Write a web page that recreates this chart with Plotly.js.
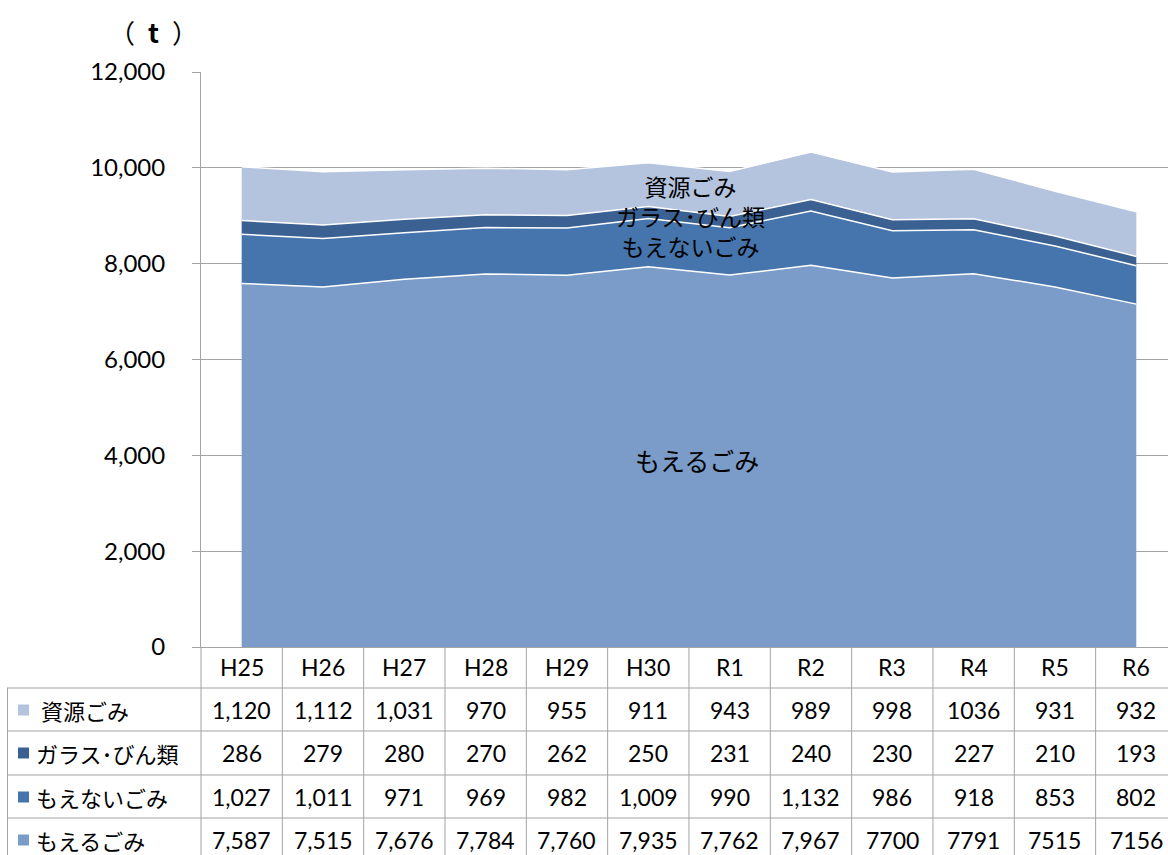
<!DOCTYPE html>
<html>
<head>
<meta charset="utf-8">
<script src="https://cdn.plot.ly/plotly-3.0.1.min.js"></script>
<style>html,body{margin:0;padding:0;background:#fff;}#chart{width:1168px;height:855px;}</style>
</head>
<body>
<div id="chart"></div>
<script>
// ---- data (as shown in the data table) ----
var categories = ['H25','H26','H27','H28','H29','H30','R1','R2','R3','R4','R5','R6'];
var seriesNames = ['資源ごみ','ガラス･びん類','もえないごみ','もえるごみ'];
var shigenText   = ['1,120','1,112','1,031','970','955','911','943','989','998','1036','931','932'];
var glassText    = ['286','279','280','270','262','250','231','240','230','227','210','193'];
var moenaiText   = ['1,027','1,011','971','969','982','1,009','990','1,132','986','918','853','802'];
var moeruText    = ['7,587','7,515','7,676','7,784','7,760','7,935','7,762','7,967','7700','7791','7515','7156'];
var yTicks = [0, 2000, 4000, 6000, 8000, 10000, 12000];
var yTickText = ['0','2,000','4,000','6,000','8,000','10,000','12,000'];
var unitLabel = '（\u2002<b>t</b>\u2002）';

function toNum(arr){ return arr.map(function(s){ return Number(s.replace(/,/g,'')); }); }
var shigen = toNum(shigenText), glass = toNum(glassText), moenai = toNum(moenaiText), moeru = toNum(moeruText);

var colors = {};
colors[seriesNames[3]] = '#7b9cc8';
colors[seriesNames[2]] = '#4675ad';
colors[seriesNames[1]] = '#3a6192';
colors[seriesNames[0]] = '#b4c3de';

var idx = categories.map(function(_, i){ return i; });
function areaTrace(name, vals){
  return {
    type: 'scatter', mode: 'lines', name: name, x: idx, y: vals,
    stackgroup: 'one', fillcolor: colors[name],
    line: {color: '#ffffff', width: 1.5, shape: 'linear'},
    hoverinfo: 'x+y+name'
  };
}
var traces = [
  areaTrace(seriesNames[3], moeru),
  areaTrace(seriesNames[2], moenai),
  areaTrace(seriesNames[1], glass),
  areaTrace(seriesNames[0], shigen)
];

// ---- geometry helpers (pixels -> paper) ----
var W = 1168, H = 855, L = 201, T = 72, B = 208;
var plotH = H - T - B; // 575
var plotW = W - L;
function py(p){ return (H - B - p) / plotH; }
function px(p){ return (p - L) / plotW; }

var gridColor = '#a3a3a3';
var numFont = {family: 'Lato, "Noto Sans CJK JP", sans-serif', size: 23, color: '#000'};
var tickFont = {family: 'Lato, "Noto Sans CJK JP", sans-serif', size: 24, color: '#000'};
var jpFont = {family: '"Noto Sans CJK JP", sans-serif', size: 22, color: '#000'};

var shapes = [], annotations = [];

// table rows: header + 4 series rows
var rowLines = [688, 731, 775, 818];
var rowCenters = [710, 753, 797, 840];
var tableRows = [
  {name: seriesNames[0], text: shigenText, label: '\u00a0' + seriesNames[0]},
  {name: seriesNames[1], text: glassText, label: seriesNames[1]},
  {name: seriesNames[2], text: moenaiText, label: seriesNames[2]},
  {name: seriesNames[3], text: moeruText, label: seriesNames[3]}
];

// horizontal table lines
rowLines.forEach(function(yp){
  shapes.push({type:'line', xref:'paper', yref:'paper', x0: px(7), x1: 1, y0: py(yp), y1: py(yp),
    line:{color: gridColor, width: 1}});
});
// left border of label column
shapes.push({type:'line', xref:'paper', yref:'paper', x0: px(7.5), x1: px(7.5), y0: py(688), y1: py(860),
  line:{color: gridColor, width: 1}});
// column boundaries
shapes.push({type:'line', xref:'paper', yref:'paper', x0: 0, x1: 0, y0: 0, y1: py(860),
  line:{color: gridColor, width: 1}});
for (var i = 1; i < categories.length; i++){
  shapes.push({type:'line', xref:'x', yref:'paper', x0: i - 0.5, x1: i - 0.5, y0: 0, y1: py(860),
    line:{color: gridColor, width: 1}});
}

// header (category labels)
categories.forEach(function(c, i){
  annotations.push({xref:'x', yref:'paper', x: i, y: py(667), text: c, showarrow:false,
    font: numFont, xanchor:'center', yanchor:'middle'});
});

// rows
tableRows.forEach(function(r, k){
  var yc = py(rowCenters[k]);
  shapes.push({type:'rect', xref:'paper', yref:'paper', x0: px(18), x1: px(29),
    y0: yc - 5.5/plotH, y1: yc + 5.5/plotH, fillcolor: colors[r.name], line:{width:0}});
  annotations.push({xref:'paper', yref:'paper', x: px(34), y: yc, text: r.label, showarrow:false,
    font: jpFont, xanchor:'left', yanchor:'middle'});
  r.text.forEach(function(t, i){
    annotations.push({xref:'x', yref:'paper', x: i, y: yc, text: t, showarrow:false,
      font: numFont, xanchor:'center', yanchor:'middle'});
  });
});

// in-chart series labels (upper three stacked as one text block)
annotations.push({xref:'x', yref:'y', x: 5.52, y: 9000,
  text: [seriesNames[0], seriesNames[1], seriesNames[2]].join('<br>'), showarrow:false, align:'center',
  font: {family: '"Noto Sans CJK JP", sans-serif', size: 23, color: '#000'}});
annotations.push({xref:'x', yref:'y', x: 5.6, y: 3900, text: seriesNames[3], showarrow:false,
  font: {family: '"Noto Sans CJK JP", sans-serif', size: 25, color: '#000'}});

// unit label
annotations.push({xref:'paper', yref:'paper', x: px(153), y: py(31), text: unitLabel, showarrow:false,
  font: {family: '"Noto Sans CJK JP", sans-serif', size: 26, color:'#000'}, xanchor:'center', yanchor:'middle'});

var layout = {
  width: W, height: H,
  margin: {l: L, r: 0, t: T, b: B, pad: 0},
  paper_bgcolor: '#fff', plot_bgcolor: '#fff',
  showlegend: false,
  xaxis: {
    type: 'linear', range: [-0.5, -0.5 + (W - L) / 81.33],
    showticklabels: false, ticks: '', showgrid: false, zeroline: false,
    showline: true, linecolor: gridColor, linewidth: 1, fixedrange: true
  },
  yaxis: {
    range: [0, 12000], tickvals: yTicks, ticktext: yTickText,
    showgrid: true, gridcolor: gridColor, gridwidth: 1, zeroline: false,
    showline: true, linecolor: gridColor, linewidth: 1,
    ticks: 'outside', ticklen: 8, tickcolor: gridColor, ticklabelstandoff: 22,
    tickfont: tickFont, fixedrange: true
  },
  shapes: shapes,
  annotations: annotations
};

Plotly.newPlot('chart', traces, layout, {displayModeBar: false, staticPlot: true});
</script>
</body>
</html>
